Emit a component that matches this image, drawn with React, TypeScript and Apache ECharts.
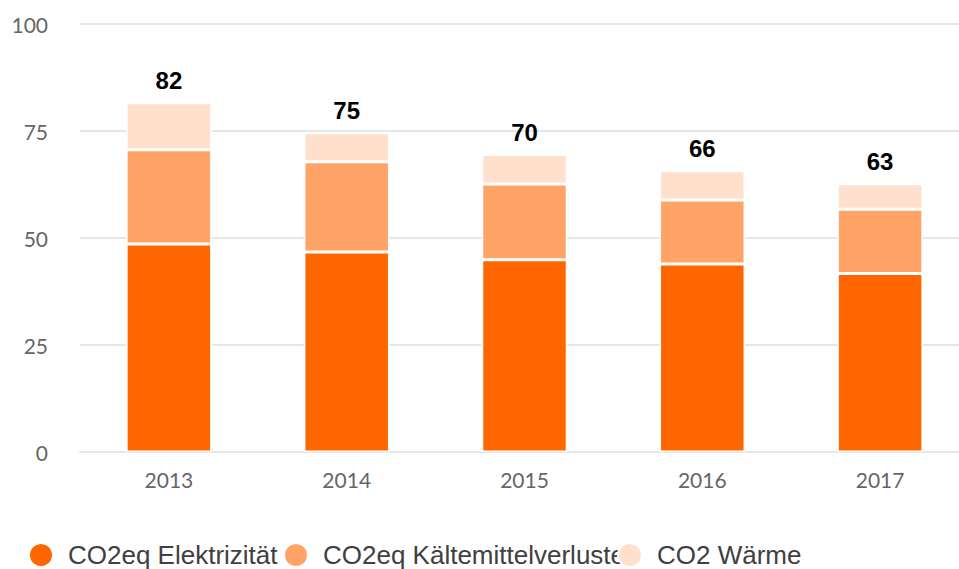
import React, { useEffect, useRef } from "react";
import * as echarts from "echarts";

const categories = ["2013", "2014", "2015", "2016", "2017"];
const elektrizitaet = [48.6, 46.7, 44.9, 43.9, 41.7];
const kaeltemittel = [22.0, 21.1, 17.7, 15.0, 15.0];
const waerme = [11.0, 6.8, 6.9, 6.8, 6.0];
const totalLabels = ["82", "75", "70", "66", "63"];
const seriesNames = ["CO2eq Elektrizität", "CO2eq Kältemittelverluste", "CO2 Wärme"];
const colors = ["#ff6600", "#ffa466", "#ffe0cc"];

export default function App() {
  const ref = useRef<HTMLDivElement>(null);
  useEffect(() => {
    if (!ref.current) return;
    const chart = echarts.init(ref.current, null, { renderer: "svg" });
    const itemStyle = (c: string) => ({ color: c, borderColor: "#ffffff", borderWidth: 1.5 });
    const legendPos = [28, 283, 617];
    chart.setOption({
      animation: false,
      grid: { left: 80, top: 24, width: 889, height: 428, containLabel: false },
      legend: seriesNames.map((n, i) => ({
        data: [n],
        left: legendPos[i],
        top: 542,
        padding: 0,
        icon: "circle",
        itemWidth: 24,
        itemHeight: 24,
        selectedMode: false,
        textStyle: {
          fontFamily: "Liberation Sans, Arial, sans-serif",
          fontSize: 26,
          color: "#404040",
          padding: [0, 0, 0, 10],
        },
      })),
      xAxis: {
        type: "category",
        data: categories,
        axisLine: { show: true, lineStyle: { color: "#e6e6e6", width: 2 } },
        axisTick: { show: false },
        axisLabel: {
          margin: 17,
          fontFamily: "Lato, sans-serif",
          fontSize: 21,
          color: "#666666",
        },
      },
      yAxis: {
        type: "value",
        min: 0,
        max: 100,
        interval: 25,
        axisLine: { show: false },
        axisTick: { show: false },
        splitLine: { lineStyle: { color: "#e6e6e6", width: 2 } },
        axisLabel: {
          margin: 32,
          fontFamily: "Lato, sans-serif",
          fontSize: 21,
          color: "#666666",
        },
      },
      series: [
        {
          name: seriesNames[0],
          type: "bar",
          stack: "total",
          barWidth: 85.5,
          data: elektrizitaet,
          itemStyle: itemStyle(colors[0]),
        },
        {
          name: seriesNames[1],
          type: "bar",
          stack: "total",
          data: kaeltemittel,
          itemStyle: itemStyle(colors[1]),
        },
        {
          name: seriesNames[2],
          type: "bar",
          stack: "total",
          data: waerme,
          itemStyle: itemStyle(colors[2]),
          label: {
            show: true,
            position: "top",
            distance: 10,
            formatter: (p: any) => totalLabels[p.dataIndex],
            fontFamily: "Liberation Sans, Arial, sans-serif",
            fontWeight: "bold",
            fontSize: 24,
            color: "#000000",
          },
        },
      ],
    });
    return () => chart.dispose();
  }, []);
  return (
    <div
      style={{
        position: "fixed",
        left: 0,
        top: 0,
        width: 959,
        height: 569,
        overflow: "hidden",
        background: "#ffffff",
      }}
    >
      <div ref={ref} style={{ width: 980, height: 569 }} />
    </div>
  );
}
